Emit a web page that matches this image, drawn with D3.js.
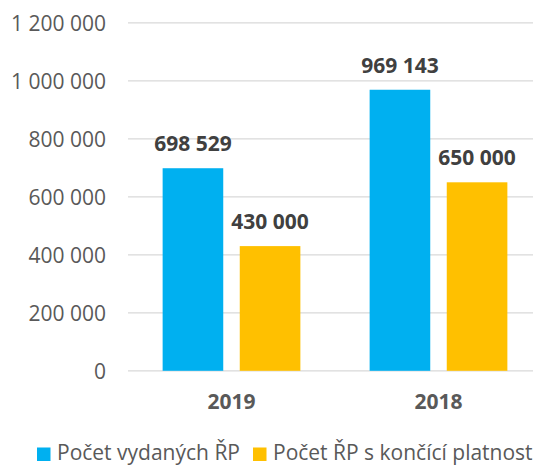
<!DOCTYPE html>
<html>
<head>
<meta charset="utf-8">
<script src="https://cdn.jsdelivr.net/npm/d3@7"></script>
<style>
  html, body { margin: 0; padding: 0; background: #fff; overflow: hidden; }
  svg { display: block; font-family: "Open Sans", sans-serif; }
</style>
</head>
<body>
<svg id="chart" width="533" height="465"></svg>
<script>
const categories = ["2019", "2018"];
const seriesNames = ["Počet vydaných ŘP", "Počet ŘP s končící platnost"];
const issued = [698529, 969143];
const expiring = [430000, 650000];
const yTicks = [0, 200000, 400000, 600000, 800000, 1000000, 1200000];
const colors = ["#00B0F0", "#FFC000"];

const svg = d3.select("#chart");
const fmt = v => d3.format(",")(v).replace(/,/g, " ");

const x0 = d3.scaleBand().domain(categories).range([128, 542]).paddingInner(0).paddingOuter(0);
const x1 = d3.scaleBand().domain([0, 1]).range([0, x0.bandwidth()]).paddingInner(0.214).paddingOuter(0.449);
const y = d3.scaleLinear().domain([0, 1200000]).range([370.8, 22.8]);

// gridlines
svg.append("g").selectAll("line").data(yTicks).join("line")
  .attr("x1", 128).attr("x2", 542)
  .attr("y1", d => y(d)).attr("y2", d => y(d))
  .attr("stroke", "#D9D9D9").attr("stroke-width", 1.3);

// y axis labels
const yAxis = d3.axisLeft(y).tickValues(yTicks).tickFormat(fmt).tickSize(0).tickPadding(0);
const ya = svg.append("g").attr("transform", "translate(106,0)").call(yAxis);
ya.select(".domain").remove();
ya.selectAll("text").attr("font-size", 21).attr("fill", "#595959")
  .attr("font-family", "'Open Sans', sans-serif").attr("dy", "0.36em");

const rows = categories.map((c, i) => ({ cat: c, vals: [issued[i], expiring[i]] }));

const groups = svg.append("g").selectAll("g").data(rows).join("g")
  .attr("transform", d => `translate(${x0(d.cat)},0)`);

groups.selectAll("rect").data(d => d.vals.map((v, j) => ({ v, j }))).join("rect")
  .attr("x", d => x1(d.j)).attr("width", x1.bandwidth())
  .attr("y", d => y(d.v)).attr("height", d => y(0) - y(d.v))
  .attr("fill", d => colors[d.j]);

groups.selectAll("text.lbl").data(d => d.vals.map((v, j) => ({ v, j }))).join("text")
  .attr("class", "lbl")
  .attr("x", d => x1(d.j) + x1.bandwidth() / 2)
  .attr("y", d => y(d.v) - 17)
  .attr("text-anchor", "middle").attr("font-size", 21).attr("font-weight", "bold")
  .attr("fill", "#404040").text(d => fmt(d.v));

// x axis labels
const xAxis = d3.axisBottom(x0).tickSize(0).tickPadding(0);
const xa = svg.append("g").attr("transform", "translate(0,409)").call(xAxis);
xa.select(".domain").remove();
xa.selectAll("text").attr("font-size", 21).attr("font-weight", "bold").attr("fill", "#595959")
  .attr("font-family", "'Open Sans', sans-serif").attr("dy", 0).attr("y", 0);

// legend
const legendX = [37, 253];
const leg = svg.append("g").selectAll("g").data(seriesNames).join("g")
  .attr("transform", (d, i) => `translate(${legendX[i]},0)`);
leg.append("rect").attr("x", 0).attr("y", 447.5).attr("width", 13.5).attr("height", 13.5)
  .attr("fill", (d, i) => colors[i]);
leg.append("text").attr("x", 20).attr("y", 459.5).attr("font-size", 21)
  .attr("fill", "#595959").text(d => d);
</script>
</body>
</html>
